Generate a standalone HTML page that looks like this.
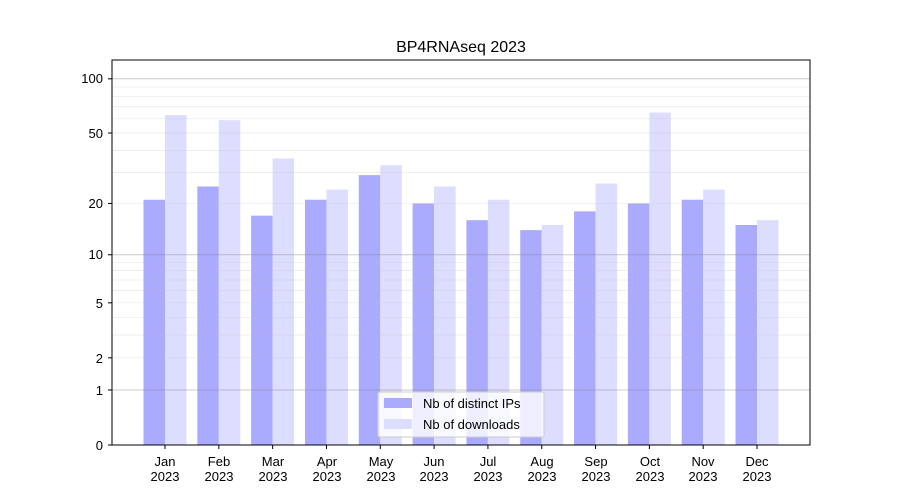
<!DOCTYPE html>
<html><head><meta charset="utf-8"><style>body{margin:0;background:#fff}svg{display:block}text{font-family:"Liberation Sans","DejaVu Sans",sans-serif;font-size:13px;fill:#000}</style></head>
<body>
<svg id="s" width="900" height="500" viewBox="0 0 900 500">
<rect width="900" height="500" fill="#fff"/>
<g id="bars"></g>
<g id="grid"></g>
<g id="ticks"></g>
<rect x="112" y="60" width="698" height="385" fill="none" stroke="#000" stroke-width="1"/>
<text x="461" y="52" text-anchor="middle" style="font-size:16px">BP4RNAseq 2023</text>
<g text-anchor="end">
<text x="103" y="83">100</text>
<text x="103" y="138">50</text>
<text x="103" y="208">20</text>
<text x="103" y="259">10</text>
<text x="103" y="308">5</text>
<text x="103" y="363">2</text>
<text x="103" y="395">1</text>
<text x="103" y="450">0</text>
</g>
<g id="xl" text-anchor="middle">
<text x="165" y="466">Jan</text><text x="165" y="481">2023</text>
<text x="219" y="466">Feb</text><text x="219" y="481">2023</text>
<text x="273" y="466">Mar</text><text x="273" y="481">2023</text>
<text x="327" y="466">Apr</text><text x="327" y="481">2023</text>
<text x="381" y="466">May</text><text x="381" y="481">2023</text>
<text x="434" y="466">Jun</text><text x="434" y="481">2023</text>
<text x="488" y="466">Jul</text><text x="488" y="481">2023</text>
<text x="542" y="466">Aug</text><text x="542" y="481">2023</text>
<text x="596" y="466">Sep</text><text x="596" y="481">2023</text>
<text x="650" y="466">Oct</text><text x="650" y="481">2023</text>
<text x="703" y="466">Nov</text><text x="703" y="481">2023</text>
<text x="757" y="466">Dec</text><text x="757" y="481">2023</text>
</g>
<g>
<rect x="378" y="392" width="166" height="45" fill="#fff" fill-opacity="0.8" stroke="#ccc" rx="2"/>
<rect x="384" y="398" width="28" height="10" fill="#aaaaff"/>
<text x="423" y="408">Nb of distinct IPs</text>
<rect x="384" y="419" width="28" height="10" fill="#ddddff"/>
<text x="423" y="429">Nb of downloads</text>
</g>
</svg>
<script>
var ns="http://www.w3.org/2000/svg";
function Y(v){return 445-182.7*Math.log10(v+1);}
var g=document.getElementById("grid"),b=document.getElementById("bars"),tk=document.getElementById("ticks");
function ln(v,c,o){var l=document.createElementNS(ns,"line");l.setAttribute("x1",112);l.setAttribute("x2",810);l.setAttribute("y1",Y(v));l.setAttribute("y2",Y(v));l.setAttribute("stroke",c);l.setAttribute("stroke-opacity",o);l.setAttribute("stroke-width",c=="#808080"?1:0.7);g.appendChild(l);}
[2,3,4,5,6,7,8,9,20,30,40,50,60,70,80,90].forEach(function(v){ln(v,"#c0c0c0",0.35)});
[1,10,100].forEach(function(v){ln(v,"#808080",0.4)});
var ip=[21,25,17,21,29,20,16,14,18,20,21,15],dl=[63,59,36,24,33,25,21,15,26,65,24,16];
for(var i=0;i<12;i++){var c=165+i*53.82;
[[ip[i],c-21.5,"#aaaaff"],[dl[i],c,"#ddddff"]].forEach(function(a){var r=document.createElementNS(ns,"rect");var y=Y(a[0]);r.setAttribute("x",a[1]);r.setAttribute("y",y);r.setAttribute("width",21.5);r.setAttribute("height",445-y);r.setAttribute("fill",a[2]);b.appendChild(r);});
var t=document.createElementNS(ns,"line");t.setAttribute("x1",c);t.setAttribute("x2",c);t.setAttribute("y1",445);t.setAttribute("y2",449);t.setAttribute("stroke","#000");tk.appendChild(t);}
[1,2,5,10,20,50,100,0].forEach(function(v){var t=document.createElementNS(ns,"line");t.setAttribute("x1",108);t.setAttribute("x2",112);t.setAttribute("y1",Y(v));t.setAttribute("y2",Y(v));t.setAttribute("stroke","#000");tk.appendChild(t);});
</script>
</body></html>
